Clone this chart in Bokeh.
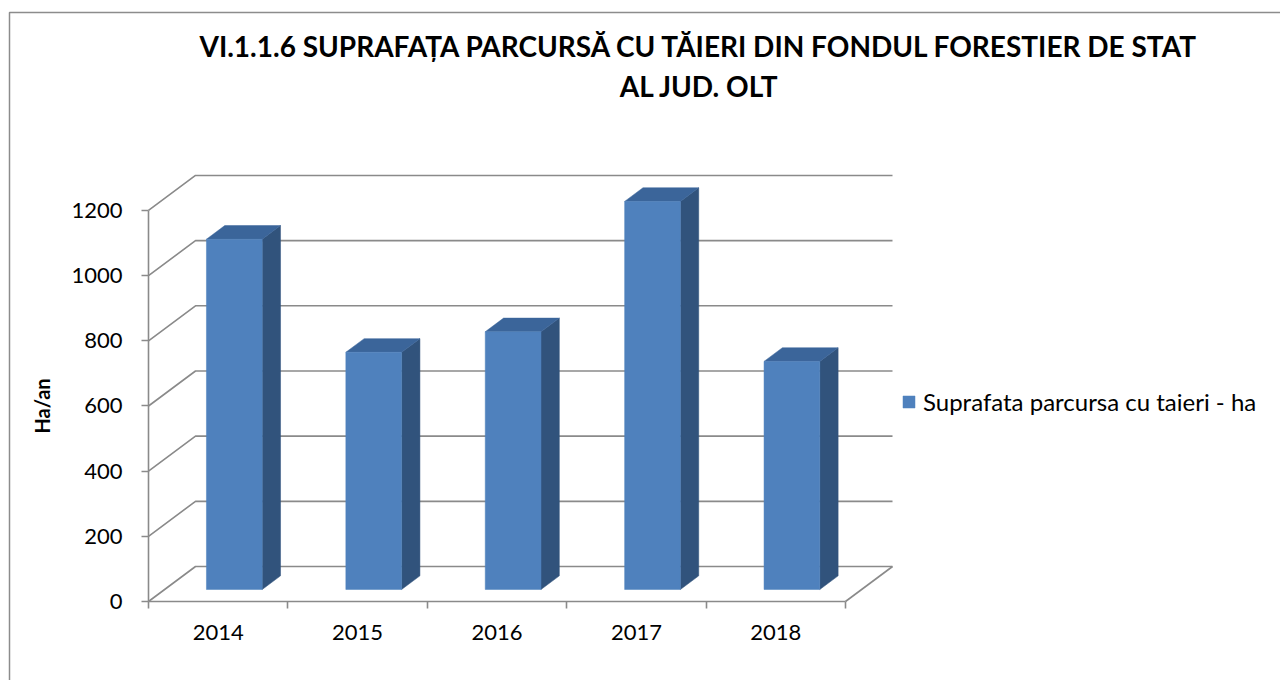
from bokeh.plotting import figure
from bokeh.models import Range1d, LinearAxis, FixedTicker, Legend, LegendItem
from bokeh.core.properties import value
from bokeh.embed import file_html
from bokeh.resources import INLINE

# ---------------- data ----------------
YEARS = ["2014", "2015", "2016", "2017", "2018"]
SURFACE_HA = [1075, 728, 791, 1191, 700]
Y_TICKS = [0, 200, 400, 600, 800, 1000, 1200]
TITLE_LINES = ["VI.1.1.6 SUPRAFAȚA PARCURSĂ CU TĂIERI DIN FONDUL FORESTIER DE STAT",
               "AL JUD. OLT"]
SERIES_NAME = "Suprafata parcursa cu taieri - ha"
Y_LABEL = "Ha/an"

# ---------------- geometry / style ----------------
W, H = 1280, 680
PX_CAT = 139.4            # pixels per category
PX_VAL = 65.17 / 200.0    # pixels per value unit
SX0, SY0 = 148, 601       # screen position of data origin (front plane)
DX = 47 / PX_CAT          # depth offset (x) in data units
DY = 35 / PX_VAL          # depth offset (y) in data units
F0, BD = 0.343, 0.39      # bar front depth fraction, bar depth fraction
BW = 0.4                  # bar width (category units)
GRID = "#8a8a8a"
FRONT, TOP, SIDE = "#4F81BD", "#3B659A", "#31537C"
FONT = "Lato"

def page(X, Y):
    """screen pixel -> data coords (for decorations only)"""
    return (X - SX0) / PX_CAT, (SY0 - Y) / PX_VAL

p = figure(width=W, height=H, output_backend="svg", toolbar_location=None,
           x_axis_type=None, y_axis_type=None, min_border=0,
           x_range=Range1d(-SX0 / PX_CAT, (W - SX0) / PX_CAT),
           y_range=Range1d(-(H - SY0) / PX_VAL, SY0 / PX_VAL))
p.outline_line_color = None
p.background_fill_color = "white"
p.border_fill_color = "white"

n = len(YEARS)

# outer chart border (left & top visible)
bx0, by0 = page(9, 12)
bx1, by1 = page(1300, 700)
p.line([bx0, bx0, bx1], [by1, by0, by0], line_color="#8c8c8c", line_width=1.5)

# 3D walls: left wall diagonals and back wall gridlines
xs, ys = [], []
for v in Y_TICKS:
    xs.append([0, DX, n + DX])
    ys.append([v, v + DY, v + DY])
xs.append([n, n + DX])
ys.append([0, DY])
p.multi_line(xs, ys, line_color=GRID, line_width=1.6)

# bars
fx, fy, tx, ty, sx, sy = [], [], [], [], [], []
for i, v in enumerate(SURFACE_HA):
    c = i + 0.5
    x0 = c - BW / 2 + F0 * DX
    x1 = c + BW / 2 + F0 * DX
    b = F0 * DY
    ox, oy = BD * DX, BD * DY
    fx.append([x0, x1, x1, x0]); fy.append([b, b, b + v, b + v])
    tx.append([x0, x1, x1 + ox, x0 + ox]); ty.append([b + v, b + v, b + v + oy, b + v + oy])
    sx.append([x1, x1 + ox, x1 + ox, x1]); sy.append([b, b + oy, b + v + oy, b + v])

p.patches(sx, sy, fill_color=SIDE, line_color=SIDE, line_width=0.5)
p.patches(tx, ty, fill_color=TOP, line_color=TOP, line_width=0.5)
front = p.patches(fx, fy, fill_color=FRONT, line_color=FRONT, line_width=0.5)

# axes
yax = LinearAxis(fixed_location=0, bounds=(0, Y_TICKS[-1]),
                 ticker=FixedTicker(ticks=Y_TICKS, minor_ticks=[]))
yax.axis_line_color = GRID
yax.axis_line_width = 1.6
yax.major_tick_line_color = GRID
yax.major_tick_line_width = 1.6
yax.major_tick_out = 7
yax.major_tick_in = 0
yax.major_label_standoff = 19
yax.major_label_text_font = FONT
yax.major_label_text_font_size = "22px"
yax.major_label_text_color = "black"
yax.axis_label = Y_LABEL
yax.axis_label_text_font = FONT
yax.axis_label_text_font_style = "bold"
yax.axis_label_text_font_size = "20px"
yax.axis_label_text_color = "black"
yax.axis_label_standoff = 14
p.add_layout(yax, "left")

centers = [i + 0.5 for i in range(n)]
xax = LinearAxis(fixed_location=0, bounds=(0, n),
                 ticker=FixedTicker(ticks=centers, minor_ticks=list(range(n + 1))))
xax.major_label_overrides = {c: lab for c, lab in zip(centers, YEARS)}
xax.axis_line_color = GRID
xax.axis_line_width = 1.6
xax.major_tick_out = 0
xax.major_tick_in = 0
xax.minor_tick_line_color = GRID
xax.minor_tick_line_width = 1.6
xax.minor_tick_out = 7
xax.minor_tick_in = 0
xax.major_label_standoff = 16
xax.major_label_text_font = FONT
xax.major_label_text_font_size = "22px"
xax.major_label_text_color = "black"
p.add_layout(xax, "below")

# title
tx0, ty0 = page(699, 45)
_, ty1 = page(699, 85)
p.text(x=[tx0, tx0], y=[ty0, ty1], text=TITLE_LINES, text_align="center",
       text_baseline="middle", text_font=value(FONT), text_font_style="bold",
       text_font_size="28px", text_color="black")

# legend
legend = Legend(items=[LegendItem(label=SERIES_NAME, renderers=[front])],
                location=(901 - 0, H - 402 - 14), orientation="vertical")
legend.glyph_width = 15
legend.glyph_height = 15
legend.label_standoff = 7
legend.padding = 0
legend.margin = 0
legend.border_line_color = None
legend.background_fill_alpha = 0
legend.label_text_font = FONT
legend.label_text_font_size = "24px"
legend.label_text_color = "black"
p.add_layout(legend, "center")

open("out.html", "w").write(file_html(p, INLINE))
